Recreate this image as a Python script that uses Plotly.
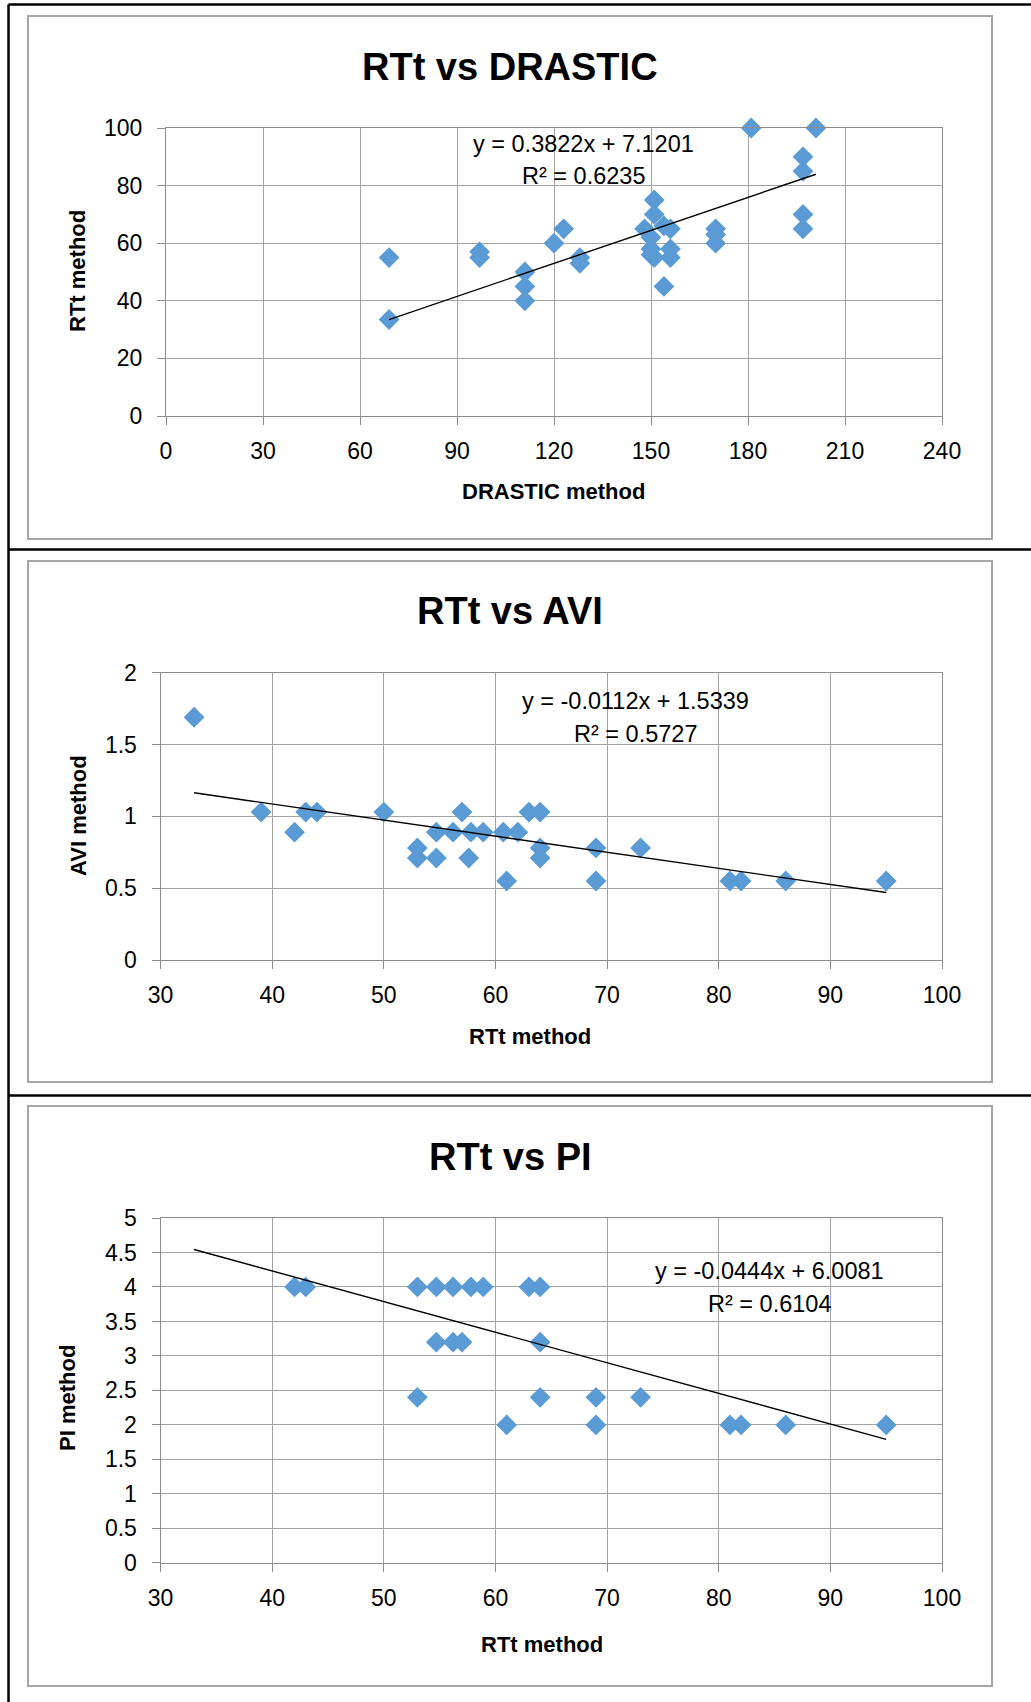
import plotly.graph_objects as go

# ---- data ---------------------------------------------------------------
# Panel 1: DRASTIC index vs RTt index
drastic_x = [69, 69, 97, 97, 111, 111, 111, 120, 123, 128, 128,
             148, 151, 151, 150, 150, 150, 151, 154, 156, 156, 156, 154,
             170, 170, 170, 181, 197, 197, 197, 197, 201]
rtt_vs_drastic = [55, 33.5, 57, 55, 50, 45, 40, 60, 65, 55, 53,
                  65, 75, 70, 62, 58, 56, 55, 66, 65, 58, 55, 45,
                  65, 63, 60, 100, 90, 85, 70, 65, 100]
drastic_fit = (0.3822, 7.1201, 0.6235)

# Panel 2: RTt index vs AVI
rtt_avi_x = [33, 39, 42, 43, 44, 50, 53, 53, 54.7, 54.7, 56.2, 57, 57.6, 57.8,
             58.9, 60.7, 61, 62, 63, 64, 64, 64, 69, 69, 73, 81, 82, 86, 95]
avi_y = [1.69, 1.03, 0.89, 1.03, 1.03, 1.03, 0.78, 0.71, 0.89, 0.71, 0.89, 1.03,
         0.71, 0.89, 0.89, 0.89, 0.55, 0.89, 1.03, 1.03, 0.78, 0.71, 0.78, 0.55,
         0.78, 0.55, 0.55, 0.55, 0.55]
avi_fit = (-0.0112, 1.5339, 0.5727)

# Panel 3: RTt index vs PI
rtt_pi_x = [42, 43, 53, 54.7, 56.2, 57.8, 58.9, 63, 64,
            54.7, 56.2, 57, 64,
            53, 64, 69, 73,
            61, 69, 81, 82, 86, 95]
pi_y = [4, 4, 4, 4, 4, 4, 4, 4, 4,
        3.2, 3.2, 3.2, 3.2,
        2.4, 2.4, 2.4, 2.4,
        2, 2, 2, 2, 2, 2]
pi_fit = (-0.0444, 6.0081, 0.6104)

titles = ["RTt vs DRASTIC", "RTt vs AVI", "RTt vs PI"]
x_titles = ["DRASTIC method", "RTt method", "RTt method"]
y_titles = ["RTt method", "AVI method", "PI method"]

# ---- page geometry (pixels) --------------------------------------------
W, H = 1031, 1702


def px(x):
    return x / W


def py(y):
    return 1 - y / H


FONT = "Liberation Sans, Arial, sans-serif"
BLUE = "#5B9BD5"
GRID = "#a3a3a3"
AXIS = "#8c8c8c"

fig = go.Figure()

panels = [
    dict(x=drastic_x, y=rtt_vs_drastic, fit=drastic_fit, fit_x=drastic_x,
         xr=[0, 240], xd=30, yr=[0, 100], yd=20,
         plot=(166, 942, 128, 416)),
    dict(x=rtt_avi_x, y=avi_y, fit=avi_fit, fit_x=rtt_avi_x,
         xr=[30, 100], xd=10, yr=[0, 2], yd=0.5,
         plot=(160.6, 942, 672.7, 960)),
    # the PI comparison uses the same RTt sample, so its fit spans that range
    dict(x=rtt_pi_x, y=pi_y, fit=pi_fit, fit_x=rtt_avi_x,
         xr=[30, 100], xd=10, yr=[0, 5], yd=0.5,
         plot=(160.6, 942, 1218, 1562.8)),
]

for i, p in enumerate(panels):
    n = "" if i == 0 else str(i + 1)
    xa, ya = "x" + n, "y" + n
    slope, icpt, _ = p["fit"]
    fx = [min(p["fit_x"]), max(p["fit_x"])]
    fy = [slope * v + icpt for v in fx]
    fig.add_trace(go.Scatter(
        x=p["x"], y=p["y"], mode="markers", xaxis=xa, yaxis=ya,
        marker=dict(symbol="diamond", size=16, color=BLUE, line=dict(width=0)),
        cliponaxis=False, showlegend=False))
    fig.add_trace(go.Scatter(
        x=fx, y=fy, mode="lines", xaxis=xa, yaxis=ya,
        line=dict(color="black", width=1.4), showlegend=False))

    x0, x1, y0, y1 = p["plot"]
    common = dict(showgrid=True, gridcolor=GRID, gridwidth=1.2,
                  showline=True, linecolor=AXIS, linewidth=1.2, mirror=True,
                  ticks="outside", ticklen=8, tickcolor=AXIS, tickwidth=1.2,
                  zeroline=False, automargin=False,
                  tickfont=dict(family=FONT, size=23, color="black"))
    fig.layout["xaxis" + n] = dict(
        common, domain=[px(x0), px(x1)], range=p["xr"], dtick=p["xd"], tick0=p["xr"][0],
        anchor=ya, ticklabelstandoff=6)
    fig.layout["yaxis" + n] = dict(
        common, domain=[py(y1), py(y0)], range=p["yr"], dtick=p["yd"], tick0=0,
        anchor=xa, ticklabelstandoff=10)

# ---- text ----------------------------------------------------------------
ann = []


def text(x, y, s, size, bold=False, angle=0):
    ann.append(dict(x=px(x), y=py(y), xref="paper", yref="paper", showarrow=False,
                    text=f"<b>{s}</b>" if bold else s, textangle=angle,
                    xanchor="center", yanchor="middle",
                    font=dict(family=FONT, size=size, color="black")))


title_pos = [(510, 67), (510, 611), (510, 1157)]
xt_pos = [(553.5, 491), (529.6, 1036.5), (541.6, 1644)]
yt_pos = [(78, 271), (78, 816), (67, 1398)]
eq_pos = [(583, 144, 176), (635, 701, 734), (769.5, 1271, 1303.5)]

for i in range(3):
    text(*title_pos[i], titles[i], 38, bold=True)
    text(*xt_pos[i], x_titles[i], 22, bold=True)
    text(*yt_pos[i], y_titles[i], 22, bold=True, angle=-90)
    slope, icpt, r2 = panels[i]["fit"]
    sign = "+" if icpt >= 0 else "-"
    ex, ey1, ey2 = eq_pos[i]
    text(ex, ey1, f"y = {slope:.4f}x {sign} {abs(icpt):.4f}", 23.5)
    text(ex, ey2, f"R² = {r2:.4f}", 23.5)

# ---- frames ---------------------------------------------------------------
shapes = []
for (top, bottom) in [(16, 539), (561, 1082), (1106, 1686)]:
    shapes.append(dict(type="rect", xref="paper", yref="paper",
                       x0=px(28), x1=px(992), y0=py(bottom), y1=py(top),
                       line=dict(color="#a6a6a6", width=2), layer="below"))
for yl in [4.5, 549.5, 1095.5]:
    shapes.append(dict(type="line", xref="paper", yref="paper",
                       x0=px(8.5), x1=px(W), y0=py(yl), y1=py(yl),
                       line=dict(color="black", width=2.5)))
shapes.append(dict(type="line", xref="paper", yref="paper",
                   x0=px(8.5), x1=px(8.5), y0=py(4.5), y1=py(H),
                   line=dict(color="black", width=2.5)))

fig.update_layout(width=W, height=H,
                  margin=dict(l=0, r=0, t=0, b=0, pad=0, autoexpand=False),
                  paper_bgcolor="white", plot_bgcolor="white",
                  annotations=ann, shapes=shapes, showlegend=False)

fig.write_html("out.html")
